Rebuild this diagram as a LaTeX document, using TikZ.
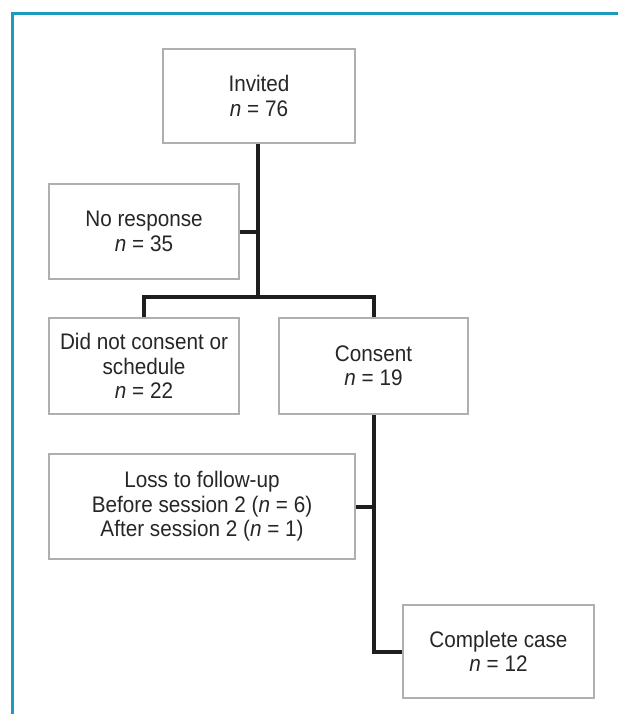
\documentclass[tikz,border=0pt]{standalone}
\usepackage{fontspec}
\setmainfont{Liberation Sans}[FakeStretch=0.92]
\definecolor{frameblue}{RGB}{28,155,190}
\definecolor{boxgray}{RGB}{175,175,175}
\definecolor{linkblack}{RGB}{30,30,30}
\begin{document}
\begin{tikzpicture}[x=1pt,y=-1pt,
  box/.style={draw=boxgray,line width=1.5pt,rectangle,align=center,inner sep=0pt,
    font=\fontsize{22.5}{24.5}\selectfont,text=black!85},
  link/.style={draw=linkblack,line width=4pt,line join=miter}]
\useasboundingbox (0,0) rectangle (618,714);
\draw[frameblue,line width=3pt] (12,714) -- (12,14) -- (618,14);

\node[box,minimum width=192pt,minimum height=94pt] (inv) at (259,96) {Invited\\\textit{n} = 76};
\node[box,minimum width=190pt,minimum height=95pt] (nr) at (144,231.5) {No response\\\textit{n} = 35};
\node[box,minimum width=190pt,minimum height=96pt] (dnc) at (144,366) {Did not consent or\\schedule\\\textit{n} = 22};
\node[box,minimum width=189pt,minimum height=96pt] (con) at (373.5,366) {Consent\\\textit{n} = 19};
\node[box,minimum width=306pt,minimum height=105pt] (loss) at (202,506.5) {Loss to follow-up\\Before session 2 (\textit{n} = 6)\\After session 2 (\textit{n} = 1)};
\node[box,minimum width=191pt,minimum height=93pt] (comp) at (498.5,651.5) {Complete case\\\textit{n} = 12};

\coordinate (j1) at (258,297);
\coordinate (jdnc) at (dnc.north |- j1);
\coordinate (jcon) at (con.north |- j1);
\draw[link] ([xshift=-1pt]inv.south) -- (j1);
\draw[link] (nr.east) -- (nr.east -| j1);
\draw[link] (dnc.north) -- (jdnc) -- (jcon) -- (con.north);
\draw[link] (con.south) |- (comp.west);
\draw[link] (loss.east) -- (loss.east -| con.south);
\end{tikzpicture}
\end{document}
